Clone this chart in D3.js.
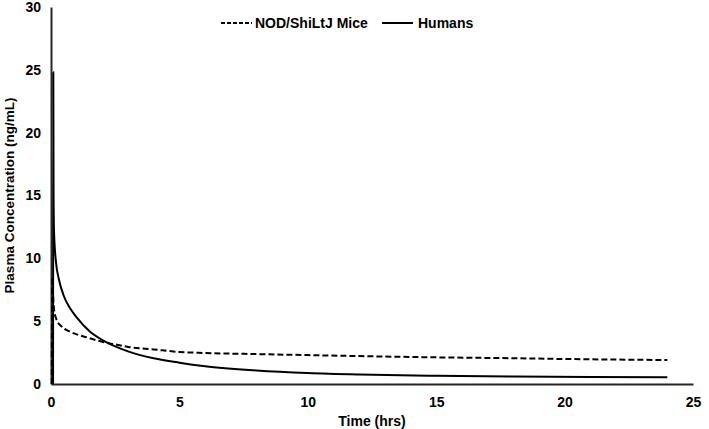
<!DOCTYPE html>
<html>
<head>
<meta charset="utf-8">
<script src="https://cdn.jsdelivr.net/npm/d3@7/dist/d3.min.js"></script>
<style>
  html, body { margin: 0; padding: 0; background: #fff; }
  svg { display: block; }
  text { font-family: "Liberation Sans", Arial, sans-serif; font-weight: bold; fill: #000; }
</style>
</head>
<body>
<svg id="chart" width="709" height="429"></svg>
<script>
// ---- data ----
const humanTimes = [0.08, 0.09, 0.1, 0.12, 0.2, 0.3, 0.5, 0.75, 1, 1.5, 2, 2.5, 3, 4, 5, 6, 8, 10, 12, 15, 18, 21, 24];
const humanConc  = [0, 24.8, 15, 12, 9.6, 8.4, 7.0, 6.0, 5.3, 4.2, 3.5, 3.0, 2.6, 2.05, 1.7, 1.42, 1.08, 0.87, 0.75, 0.65, 0.59, 0.55, 0.53];
const miceTimes  = [0.03, 0.05, 0.1, 0.2, 0.4, 0.7, 1, 1.5, 2, 2.5, 3, 4, 5, 6, 8, 10, 12, 15, 18, 20, 24];
const miceConc   = [0, 8.5, 6.3, 5.2, 4.6, 4.2, 3.95, 3.65, 3.35, 3.15, 2.95, 2.75, 2.55, 2.47, 2.38, 2.3, 2.22, 2.12, 2.05, 1.99, 1.91];
const xTicks = [0, 5, 10, 15, 20, 25];
const yTicks = [0, 5, 10, 15, 20, 25, 30];
const seriesNames = ["NOD/ShiLtJ Mice", "Humans"];
const xLabel = "Time (hrs)";
const yLabel = "Plasma Concentration (ng/mL)";

const svg = d3.select("#chart");
const x = d3.scaleLinear().domain([0, 25]).range([51, 693]);
const y = d3.scaleLinear().domain([0, 30]).range([384, 7]);

const human = humanTimes.map((t, i) => ({ t, v: humanConc[i] }));
const mice = miceTimes.map((t, i) => ({ t, v: miceConc[i] }));

// axes
const xAxis = svg.append("g").attr("transform", `translate(0,${y(0)})`)
  .call(d3.axisBottom(x).tickValues(xTicks).tickFormat(d3.format("d")).tickSize(0).tickPadding(13));
xAxis.select(".domain").attr("stroke", "#262626").attr("stroke-width", 2);
xAxis.selectAll("text").style("font-size", "14px").style("font-family", "'Liberation Sans', Arial, sans-serif").style("font-weight", "bold").attr("fill", "#000");

const yAxis = svg.append("g").attr("transform", `translate(${x(0)},0)`)
  .call(d3.axisLeft(y).tickValues(yTicks).tickFormat(d3.format("d")).tickSize(0).tickPadding(10));
yAxis.select(".domain").attr("stroke", "#262626").attr("stroke-width", 2);
yAxis.selectAll("text").style("font-size", "14px").style("font-family", "'Liberation Sans', Arial, sans-serif").style("font-weight", "bold").attr("fill", "#000");

// lines
const line = d3.line().x(d => x(d.t)).y(d => y(d.v)).curve(d3.curveMonotoneX);
svg.append("path").datum(mice).attr("d", line)
  .attr("fill", "none").attr("stroke", "#000").attr("stroke-width", 2).attr("stroke-dasharray", "6,3");
svg.append("path").datum(human).attr("d", line)
  .attr("fill", "none").attr("stroke", "#000").attr("stroke-width", 2);

// axis titles
svg.append("text").attr("x", (x(0) + x(25)) / 2).attr("y", 426)
  .attr("text-anchor", "middle").style("font-size", "14px").text(xLabel);
svg.append("text").attr("transform", `translate(14,${(y(0) + y(30)) / 2}) rotate(-90)`)
  .attr("text-anchor", "middle").style("font-size", "13.5px").text(yLabel);

// legend
const legend = svg.append("g");
legend.append("line").attr("x1", 221).attr("x2", 252).attr("y1", 23).attr("y2", 23)
  .attr("stroke", "#000").attr("stroke-width", 2).attr("stroke-dasharray", "4,2");
legend.append("text").attr("x", 255).attr("y", 23).attr("dy", "0.35em").style("font-size", "14px").text(seriesNames[0]);
legend.append("line").attr("x1", 382).attr("x2", 413).attr("y1", 23).attr("y2", 23)
  .attr("stroke", "#000").attr("stroke-width", 2);
legend.append("text").attr("x", 418).attr("y", 23).attr("dy", "0.35em").style("font-size", "14px").text(seriesNames[1]);
</script>
</body>
</html>
